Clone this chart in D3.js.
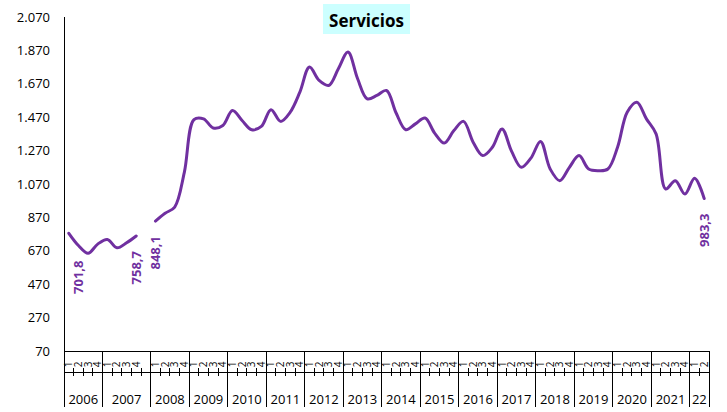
<!DOCTYPE html>
<html>
<head>
<meta charset="utf-8">
<script src="https://cdn.jsdelivr.net/npm/d3@7"></script>
<style>
  body { margin: 0; background: #fff; }
  svg { display: block; font-family: 'Open Sans', sans-serif; }
</style>
</head>
<body>
<svg id="chart" width="727" height="412"></svg>
<script>
let title = 'Servicios'
let years = ['2006', '2007', '2008', '2009', '2010', '2011', '2012', '2013', '2014',
  '2015', '2016', '2017', '2018', '2019', '2020', '2021', '22']
// 2007 carries an empty slot that breaks the line before 2008
let quartersPerYear = [4, 5, 4, 4, 4, 4, 4, 4, 4, 4, 4, 4, 4, 4, 4, 4, 2]
let quarterNames = ['1', '2', '3', '4', '']
let values = [
  775, 701.8, 655, 710,
  738, 688, 718, 758.7, null,
  848.1, 895, 932, 1140,
  1455, 1460, 1405, 1420,
  1510, 1450, 1395, 1415,
  1515, 1445, 1500, 1620,
  1770, 1690, 1660, 1760,
  1860, 1700, 1580, 1600,
  1630, 1495, 1395, 1430,
  1465, 1375, 1315, 1390,
  1445, 1320, 1240, 1290,
  1400, 1265, 1170, 1225,
  1325, 1160, 1090, 1170,
  1240, 1160, 1150, 1160,
  1290, 1500, 1560, 1460,
  1370, 1040, 1090, 1010,
  1105, 983.3
]
let labelled = [1, 7, 9, 66]
let yTicks = [70, 270, 470, 670, 870, 1070, 1270, 1470, 1670, 1870, 2070]

let color = '#7030A0'
let plotLeft = 64
let plotRight = 709
let plotTop = 17
let plotBottom = 351
let axisBottom = 407

let locale = d3.formatLocale({ decimal: ',', thousands: '.', grouping: [3], currency: ['', ''] })
let fmtTick = locale.format(',d')
let fmtLabel = locale.format(',.1f')

// categories
let cats = []
let yearSpans = []
years.forEach(function (yr, i) {
  let start = cats.length
  for (let q = 0; q < quartersPerYear[i]; q++) {
    cats.push({ year: yr, q: quarterNames[q], v: values[cats.length] })
  }
  yearSpans.push({ year: yr, start: start, end: cats.length })
})
cats.forEach(function (d, i) { d.i = i })

let svg = d3.select('#chart')

let x = d3.scaleBand()
  .domain(d3.range(cats.length))
  .range([plotLeft, plotRight])
let bw = x.bandwidth()
let cx = function (i) { return x(i) + bw / 2 }

let y = d3.scaleLinear()
  .domain([yTicks[0], yTicks[yTicks.length - 1]])
  .range([plotBottom, plotTop])

// title
let tg = svg.append('g')
tg.append('rect')
  .attr('x', 323).attr('y', 4)
  .attr('width', 87).attr('height', 30)
  .attr('fill', '#CCFFFF')
tg.append('text')
  .attr('x', 366.5).attr('y', 27)
  .attr('text-anchor', 'middle')
  .attr('font-weight', 'bold')
  .attr('font-size', 17)
  .attr('fill', '#000')
  .text(title)

// y axis
let yAxis = d3.axisLeft(y)
  .tickValues(yTicks)
  .tickFormat(fmtTick)
  .tickSize(0)
  .tickPadding(14)
let gY = svg.append('g')
  .attr('transform', 'translate(' + plotLeft + ',0)')
  .call(yAxis)
gY.select('.domain').remove()
gY.selectAll('text')
  .attr('font-size', 13)
  .attr('font-family', "'Open Sans', sans-serif")
  .attr('fill', '#000')

let frame = svg.append('g')
  .attr('stroke', '#000')
  .attr('stroke-width', 1)
  .attr('shape-rendering', 'crispEdges')

frame.append('line')
  .attr('x1', plotLeft).attr('x2', plotLeft)
  .attr('y1', plotTop).attr('y2', axisBottom)
frame.append('line')
  .attr('x1', plotLeft).attr('x2', plotRight)
  .attr('y1', plotBottom).attr('y2', plotBottom)
frame.append('line')
  .attr('x1', plotLeft).attr('x2', plotRight)
  .attr('y1', 372).attr('y2', 372)

// year separators
frame.selectAll('.sep')
  .data(yearSpans)
  .enter()
  .append('line')
  .attr('x1', function (d) { return x(d.end - 1) + bw })
  .attr('x2', function (d) { return x(d.end - 1) + bw })
  .attr('y1', plotBottom).attr('y2', axisBottom)

// quarter ticks
let starts = yearSpans.map(function (d) { return d.start })
frame.selectAll('.qtick')
  .data(cats.filter(function (d) { return d.i > 0 && starts.indexOf(d.i) < 0 }))
  .enter()
  .append('line')
  .attr('x1', function (d) { return x(d.i) })
  .attr('x2', function (d) { return x(d.i) })
  .attr('y1', 368).attr('y2', 376)

// quarter labels
svg.append('g')
  .selectAll('text')
  .data(cats.filter(function (d) { return d.q !== '' }))
  .enter()
  .append('text')
  .attr('transform', function (d) { return 'translate(' + cx(d.i) + ',364.5) rotate(-90)' })
  .attr('text-anchor', 'middle')
  .attr('dy', '0.35em')
  .attr('font-size', 10)
  .attr('fill', '#000')
  .text(function (d) { return d.q })

// year labels
svg.append('g')
  .selectAll('text')
  .data(yearSpans)
  .enter()
  .append('text')
  .attr('x', function (d) { return (x(d.start) + x(d.end - 1) + bw) / 2 })
  .attr('y', 404)
  .attr('text-anchor', 'middle')
  .attr('font-size', 13)
  .attr('fill', '#000')
  .text(function (d) { return d.year })

// line
let line = d3.line()
  .defined(function (d) { return d.v != null })
  .x(function (d) { return cx(d.i) })
  .y(function (d) { return y(d.v) })
  .curve(d3.curveCatmullRom.alpha(0.5))

svg.append('path')
  .datum(cats)
  .attr('fill', 'none')
  .attr('stroke', color)
  .attr('stroke-width', 3)
  .attr('stroke-linejoin', 'round')
  .attr('stroke-linecap', 'round')
  .attr('d', line)

// data labels
svg.append('g')
  .selectAll('text')
  .data(labelled.map(function (i) { return cats[i] }))
  .enter()
  .append('text')
  .attr('transform', function (d) { return 'translate(' + cx(d.i) + ',' + (y(d.v) + 15) + ') rotate(-90)' })
  .attr('text-anchor', 'end')
  .attr('dy', '0.35em')
  .attr('font-size', 13)
  .attr('font-weight', 'bold')
  .attr('fill', color)
  .text(function (d) { return fmtLabel(d.v) })
</script>
</body>
</html>
